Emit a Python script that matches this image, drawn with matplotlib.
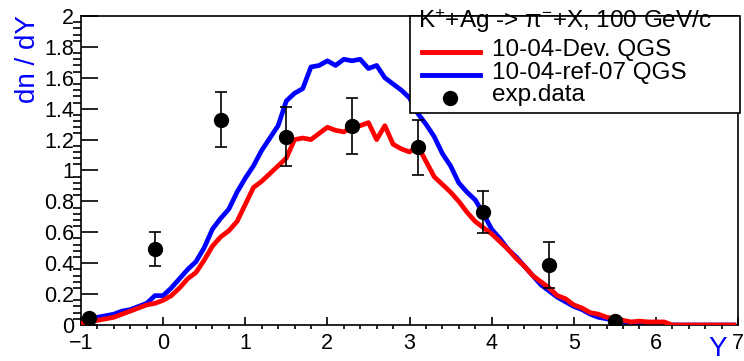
import numpy as np
import matplotlib
matplotlib.use("Agg")
import matplotlib.pyplot as plt
from matplotlib.ticker import MultipleLocator, FuncFormatter
from matplotlib.patches import Rectangle
from matplotlib.lines import Line2D

plt.rcParams['font.family'] = ['Liberation Sans', 'DejaVu Sans']
plt.rcParams['mathtext.fontset'] = 'custom'
plt.rcParams['mathtext.rm'] = 'Liberation Sans'
plt.rcParams['mathtext.it'] = 'Liberation Sans:italic'

# rapidity grid (histogram bin centres)
y_bins = [-1.0, -0.9, -0.8, -0.7, -0.6, -0.5, -0.4, -0.3, -0.2, -0.1,
          0.0, 0.1, 0.2, 0.3, 0.4, 0.5, 0.6, 0.7, 0.8, 0.9,
          1.0, 1.1, 1.2, 1.3, 1.4, 1.5, 1.6, 1.7, 1.8, 1.9,
          2.0, 2.1, 2.2, 2.3, 2.4, 2.5, 2.6, 2.7, 2.8, 2.9,
          3.0, 3.1, 3.2, 3.3, 3.4, 3.5, 3.6, 3.7, 3.8, 3.9,
          4.0, 4.1, 4.2, 4.3, 4.4, 4.5, 4.6, 4.7, 4.8, 4.9,
          5.0, 5.1, 5.2, 5.3, 5.4, 5.5, 5.6, 5.7, 5.8, 5.9,
          6.0, 6.1, 6.2, 6.3, 6.4, 6.5, 6.6, 6.7, 6.8, 6.9, 6.95]

# 10-04-ref-07 QGS
ref07 = [0.02, 0.04, 0.05, 0.06, 0.07, 0.09, 0.10, 0.12, 0.14, 0.19,
         0.19, 0.24, 0.30, 0.36, 0.41, 0.50, 0.62, 0.69, 0.75, 0.86,
         0.95, 1.03, 1.13, 1.21, 1.29, 1.45, 1.50, 1.53, 1.67, 1.68,
         1.71, 1.68, 1.72, 1.71, 1.72, 1.66, 1.68, 1.60, 1.56, 1.52,
         1.47, 1.37, 1.30, 1.22, 1.11, 1.03, 0.92, 0.86, 0.81, 0.72,
         0.62, 0.56, 0.49, 0.44, 0.38, 0.32, 0.26, 0.22, 0.18, 0.15,
         0.12, 0.10, 0.07, 0.05, 0.04, 0.03, 0.02, 0.01, 0.01, 0.005,
         0.005, 0.0, 0.0, 0.0, 0.0, 0.0, 0.0, 0.0, 0.0, 0.0, 0.0]

# 10-04-Dev. QGS
dev = [0.01, 0.02, 0.03, 0.04, 0.05, 0.07, 0.09, 0.11, 0.13, 0.14,
       0.16, 0.19, 0.24, 0.30, 0.34, 0.42, 0.51, 0.57, 0.61, 0.67,
       0.78, 0.89, 0.93, 0.98, 1.03, 1.08, 1.20, 1.21, 1.20, 1.24,
       1.28, 1.26, 1.25, 1.28, 1.29, 1.31, 1.20, 1.29, 1.17, 1.14,
       1.12, 1.16, 1.06, 0.96, 0.91, 0.86, 0.80, 0.73, 0.67, 0.63,
       0.59, 0.54, 0.49, 0.43, 0.38, 0.32, 0.28, 0.24, 0.19, 0.17,
       0.13, 0.11, 0.08, 0.07, 0.05, 0.04, 0.03, 0.02, 0.025, 0.02,
       0.02, 0.02, 0.0, 0.0, 0.0, 0.0, 0.0, 0.0, 0.0, 0.0, 0.0]

# experimental points
exp_y = [-0.9, -0.1, 0.7, 1.5, 2.3, 3.1, 3.9, 4.7, 5.5]
exp_val = [0.045, 0.49, 1.33, 1.22, 1.29, 1.15, 0.73, 0.39, 0.025]
exp_err = [0.0, 0.11, 0.18, 0.19, 0.18, 0.18, 0.135, 0.15, 0.0]

fig = plt.figure(figsize=(7.44, 3.61), dpi=100)
ax = fig.add_axes([81/744, 36/361, 657/744, 309/361])

ax.plot(y_bins, dev, color='#ff0000', lw=3.4, zorder=3)
ax.plot(y_bins, ref07, color='#0000ff', lw=3.4, zorder=2)
ax.errorbar(exp_y, exp_val, yerr=exp_err, fmt='o', color='black',
            ms=10, elinewidth=1.2, capsize=4, capthick=1.2, zorder=4)

ax.set_xlim(-1, 7)
ax.set_ylim(0, 2)
ax.xaxis.set_major_locator(MultipleLocator(1))
ax.xaxis.set_minor_locator(MultipleLocator(0.2))
ax.yaxis.set_major_locator(MultipleLocator(0.2))
ax.yaxis.set_minor_locator(MultipleLocator(0.04))
fmt = FuncFormatter(lambda v, p: ('%g' % round(v, 3)).replace('-', '\u2212'))
ax.xaxis.set_major_formatter(fmt)
ax.yaxis.set_major_formatter(fmt)
ax.tick_params(axis='both', direction='in', labelsize=15.5, colors='black', width=1.2)
ax.tick_params(axis='x', which='major', length=6, pad=6)
ax.tick_params(axis='x', which='minor', length=3, width=1.2)
ax.tick_params(axis='y', which='major', length=12, pad=5)
ax.tick_params(axis='y', which='minor', length=6, width=1.2)
for s in ax.spines.values():
    s.set_linewidth(1.2)

fig.text(28/744, 1 - 15/361, 'dn / dY', color='#0000ff', fontsize=20,
         rotation=90, ha='center', va='top')
fig.text(718/744, 1 - 349/361, 'Y', color='#0000ff', fontsize=20,
         ha='center', va='center')

# legend box
ax.add_patch(Rectangle((0.501, 0.686), 0.502, 0.314, transform=ax.transAxes,
                       facecolor='white', edgecolor='black', lw=1.2,
                       clip_on=False, zorder=5))
ax.text(0.513, 0.985, 'K$^{+}$+Ag -> \u03c0$^{-}$+X, 100 GeV/c', transform=ax.transAxes,
        fontsize=17.5, ha='left', va='center', zorder=6)
ax.add_line(Line2D([0.519, 0.607], [0.883, 0.883], transform=ax.transAxes,
                   color='#ff0000', lw=3.5, zorder=6))
ax.add_line(Line2D([0.519, 0.607], [0.809, 0.809], transform=ax.transAxes,
                   color='#0000ff', lw=3.5, zorder=6))
ax.add_line(Line2D([0.562], [0.735], transform=ax.transAxes, marker='o',
                   color='black', ms=10, zorder=6))
ax.text(0.626, 0.89, '10-04-Dev. QGS', transform=ax.transAxes, fontsize=17.5,
        ha='left', va='center', zorder=6)
ax.text(0.626, 0.816, '10-04-ref-07 QGS', transform=ax.transAxes, fontsize=17.5,
        ha='left', va='center', zorder=6)
ax.text(0.626, 0.744, 'exp.data', transform=ax.transAxes, fontsize=17.5,
        ha='left', va='center', zorder=6)

fig.savefig('out.png', dpi=100)
